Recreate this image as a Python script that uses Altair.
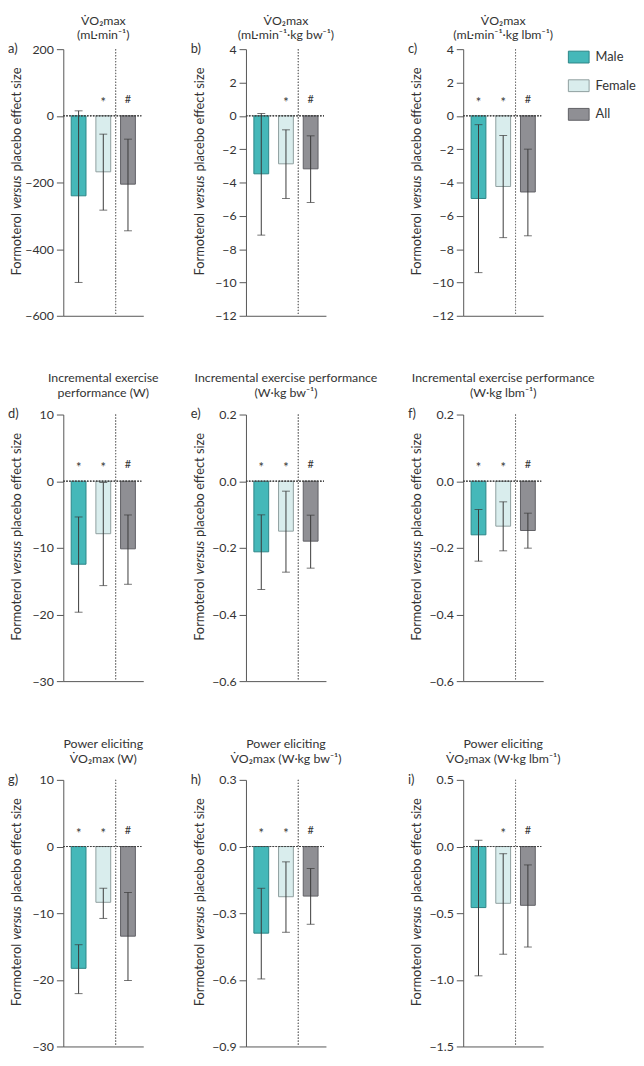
import altair as alt
import pandas as pd

groups = ["Male", "Female", "All"]
fills = ["#45b8b9", "#d9eded", "#8f8f94"]
strokes = ["#2d8587", "#8e9e9e", "#606065"]

letters = ["a)", "b)", "c)", "d)", "e)", "f)", "g)", "h)", "i)"]
titles = [
    ["V\u0307O\u2082max", "(mL·min⁻¹)"],
    ["V\u0307O\u2082max", "(mL·min⁻¹·kg bw⁻¹)"],
    ["V\u0307O\u2082max", "(mL·min⁻¹·kg lbm⁻¹)"],
    ["Incremental exercise", "performance (W)"],
    ["Incremental exercise performance", "(W·kg bw⁻¹)"],
    ["Incremental exercise performance", "(W·kg lbm⁻¹)"],
    ["Power eliciting", "V\u0307O\u2082max (W)"],
    ["Power eliciting", "V\u0307O\u2082max (W·kg bw⁻¹)"],
    ["Power eliciting", "V\u0307O\u2082max (W·kg lbm⁻¹)"],
]

means = [
    [-240, -168, -205],
    [-3.48, -2.88, -3.18],
    [-4.96, -4.24, -4.57],
    [-12.46, -7.88, -10.15],
    [-0.212, -0.150, -0.180],
    [-0.161, -0.135, -0.148],
    [-18.28, -8.37, -13.45],
    [-0.390, -0.226, -0.223],
    [-0.458, -0.426, -0.441],
]
lows = [
    [-500, -283, -345],
    [-7.16, -4.96, -5.20],
    [-9.41, -7.31, -7.20],
    [-19.66, -15.67, -15.47],
    [-0.325, -0.273, -0.261],
    [-0.240, -0.209, -0.201],
    [-22.07, -10.79, -20.10],
    [-0.596, -0.386, -0.350],
    [-0.970, -0.808, -0.754],
]
highs = [
    [15, -55, -70],
    [0.14, -0.84, -1.20],
    [-0.53, -1.18, -2.00],
    [-5.37, -0.20, -5.07],
    [-0.101, -0.030, -0.102],
    [-0.085, -0.062, -0.096],
    [-14.73, -6.26, -6.90],
    [-0.188, -0.069, -0.099],
    [0.047, -0.054, -0.138],
]
sigs = [
    ["", "*", "#"],
    ["", "*", "#"],
    ["*", "*", "#"],
    ["*", "*", "#"],
    ["*", "*", "#"],
    ["*", "*", "#"],
    ["*", "*", "#"],
    ["*", "*", "#"],
    ["", "*", "#"],
]
domains = [
    [-600, 200], [-12, 4], [-12, 4],
    [-30, 10], [-0.6, 0.2], [-0.6, 0.2],
    [-30, 10], [-0.9, 0.3], [-1.5, 0.5],
]
tick_values = [
    [-600, -400, -200, 0, 200],
    [-12, -10, -8, -6, -4, -2, 0, 2, 4],
    [-12, -10, -8, -6, -4, -2, 0, 2, 4],
    [-30, -20, -10, 0, 10],
    [-0.6, -0.4, -0.2, 0.0, 0.2],
    [-0.6, -0.4, -0.2, 0.0, 0.2],
    [-30, -20, -10, 0, 10],
    [-0.9, -0.6, -0.3, 0.0, 0.3],
    [-1.5, -1.0, -0.5, 0.0, 0.5],
]
formats = ["d", "d", "d", "d", ".1f", ".1f", "d", ".1f", ".1f"]
ytitle_parts = ["Formoterol", "versus", "placebo effect size"]

FONT = "Lato"
TXT = "#333333"
AX = "#555555"
W, H = 81, 270

legend = alt.Legend(
    title=None, orient="none", legendX=511, legendY=-3,
    symbolType="M-1,-0.57L1,-0.57L1,0.57L-1,0.57Z", symbolSize=441,
    symbolStrokeWidth=1, labelFont=FONT, labelFontSize=13, labelColor=TXT,
    rowPadding=10, labelOffset=6, padding=0,
)


def panel(i):
    df = pd.DataFrame({
        "group": groups, "mean": means[i], "lo": lows[i], "hi": highs[i], "sig": sigs[i],
    })
    yscale = alt.Scale(domain=domains[i], nice=False, zero=False)
    xscale = alt.Scale(domain=groups, paddingInner=0.4, paddingOuter=0.32)
    xaxis = alt.Axis(labels=False, ticks=False, title=None, domainColor=AX, grid=False)
    xenc = alt.X("group:N", sort=groups, scale=xscale, axis=xaxis)
    yaxis = alt.Axis(values=tick_values[i], format=formats[i], title=None, tickSize=7,
                     labelPadding=3, domainColor=AX, tickColor=AX, labelColor=TXT,
                     labelFont=FONT, labelFontSize=12.5, grid=False, labelOverlap=False)
    base = alt.Chart(df)
    bars = base.mark_bar(strokeWidth=1).encode(
        x=xenc,
        y=alt.Y("mean:Q", scale=yscale, axis=yaxis),
        y2=alt.datum(0),
        color=alt.Color("group:N", scale=alt.Scale(domain=groups, range=fills), legend=legend),
        stroke=alt.Stroke("group:N", scale=alt.Scale(domain=groups, range=strokes), legend=legend),
    )
    zero = base.mark_rule(strokeDash=[1.5, 1.5], color="#444444", strokeWidth=1).encode(
        y=alt.Y(datum=0, axis=yaxis), x=alt.value(0), x2=alt.value(79)
    )
    divider = base.mark_rule(strokeDash=[1.2, 1.8], color="#777777", strokeWidth=1, xOffset=-12.5).encode(
        x=alt.X(datum="All", axis=xaxis), y=alt.value(0), y2=alt.value(H)
    )
    err = base.mark_rule(color="#3a3a3a", strokeWidth=1).encode(
        x=alt.X("group:N", axis=xaxis), y=alt.Y("lo:Q", axis=yaxis), y2="hi:Q"
    )
    cap_lo = base.mark_tick(orient="horizontal", size=8, thickness=1, color="#3a3a3a").encode(
        x=alt.X("group:N", axis=xaxis), y=alt.Y("lo:Q", axis=yaxis)
    )
    cap_hi = base.mark_tick(orient="horizontal", size=8, thickness=1, color="#3a3a3a").encode(
        x=alt.X("group:N", axis=xaxis), y=alt.Y("hi:Q", axis=yaxis)
    )
    star = base.transform_filter("datum.sig == '*'").mark_text(
        font=FONT, fontSize=13, color=TXT, baseline="alphabetic", dy=-9
    ).encode(x=alt.X("group:N", axis=xaxis), y=alt.Y(datum=0, axis=yaxis), text="sig:N")
    hashm = base.transform_filter("datum.sig == '#'").mark_text(
        font=FONT, fontSize=11, color=TXT, baseline="alphabetic", dy=-13
    ).encode(x=alt.X("group:N", axis=xaxis), y=alt.Y(datum=0, axis=yaxis), text="sig:N")

    tdf = pd.DataFrame({"t": [ytitle_parts[0]]})
    vdf = pd.DataFrame({"t": [ytitle_parts[1]]})
    pdf = pd.DataFrame({"t": [ytitle_parts[2]]})
    ldf = pd.DataFrame({"t": [letters[i]]})
    vc = 145
    t1 = alt.Chart(tdf).mark_text(angle=270, align="right", baseline="middle", font=FONT,
                                  fontSize=13, color=TXT).encode(
        x=alt.value(-47), y=alt.value(vc + 21), text="t:N")
    t2 = alt.Chart(vdf).mark_text(angle=270, align="center", baseline="middle", font=FONT,
                                  fontSize=13, fontStyle="italic", color=TXT).encode(
        x=alt.value(-47), y=alt.value(vc), text="t:N")
    t3 = alt.Chart(pdf).mark_text(angle=270, align="left", baseline="middle", font=FONT,
                                  fontSize=13, color=TXT).encode(
        x=alt.value(-47), y=alt.value(vc - 21), text="t:N")
    lab = alt.Chart(ldf).mark_text(align="left", baseline="middle", font=FONT,
                                   fontSize=13, color=TXT).encode(
        x=alt.value(-56), y=alt.value(0), text="t:N")

    first_row = i < 3
    return alt.layer(bars, zero, divider, err, cap_lo, cap_hi, star, hashm, t1, t2, t3, lab).properties(
        width=W, height=H,
        title=alt.Title(titles[i], font=FONT, fontSize=12.5, fontWeight="normal", color=TXT,
                        anchor="middle", frame="group",
                        offset=2 if first_row else 9,
                        lineHeight=14 if first_row else 15),
    )


def spacer(w):
    return alt.Chart(pd.DataFrame({"v": [0]})).mark_point(opacity=0).encode(
        x=alt.value(0), y=alt.value(0)
    ).properties(width=w, height=H)


cells = []
for r in range(3):
    cells += [panel(3 * r), spacer(104), panel(3 * r + 1), spacer(139), panel(3 * r + 2)]

chart = alt.concat(*cells, columns=5, spacing={"row": 100, "column": 0}, bounds="flush").resolve_scale(
    x="independent", y="independent", color="shared", stroke="shared"
).properties(
    padding={"left": 0, "top": 0, "right": 0, "bottom": 0}
).configure_view(stroke=None)

chart.save("out.html", embed_options={"renderer": "svg", "actions": False})
